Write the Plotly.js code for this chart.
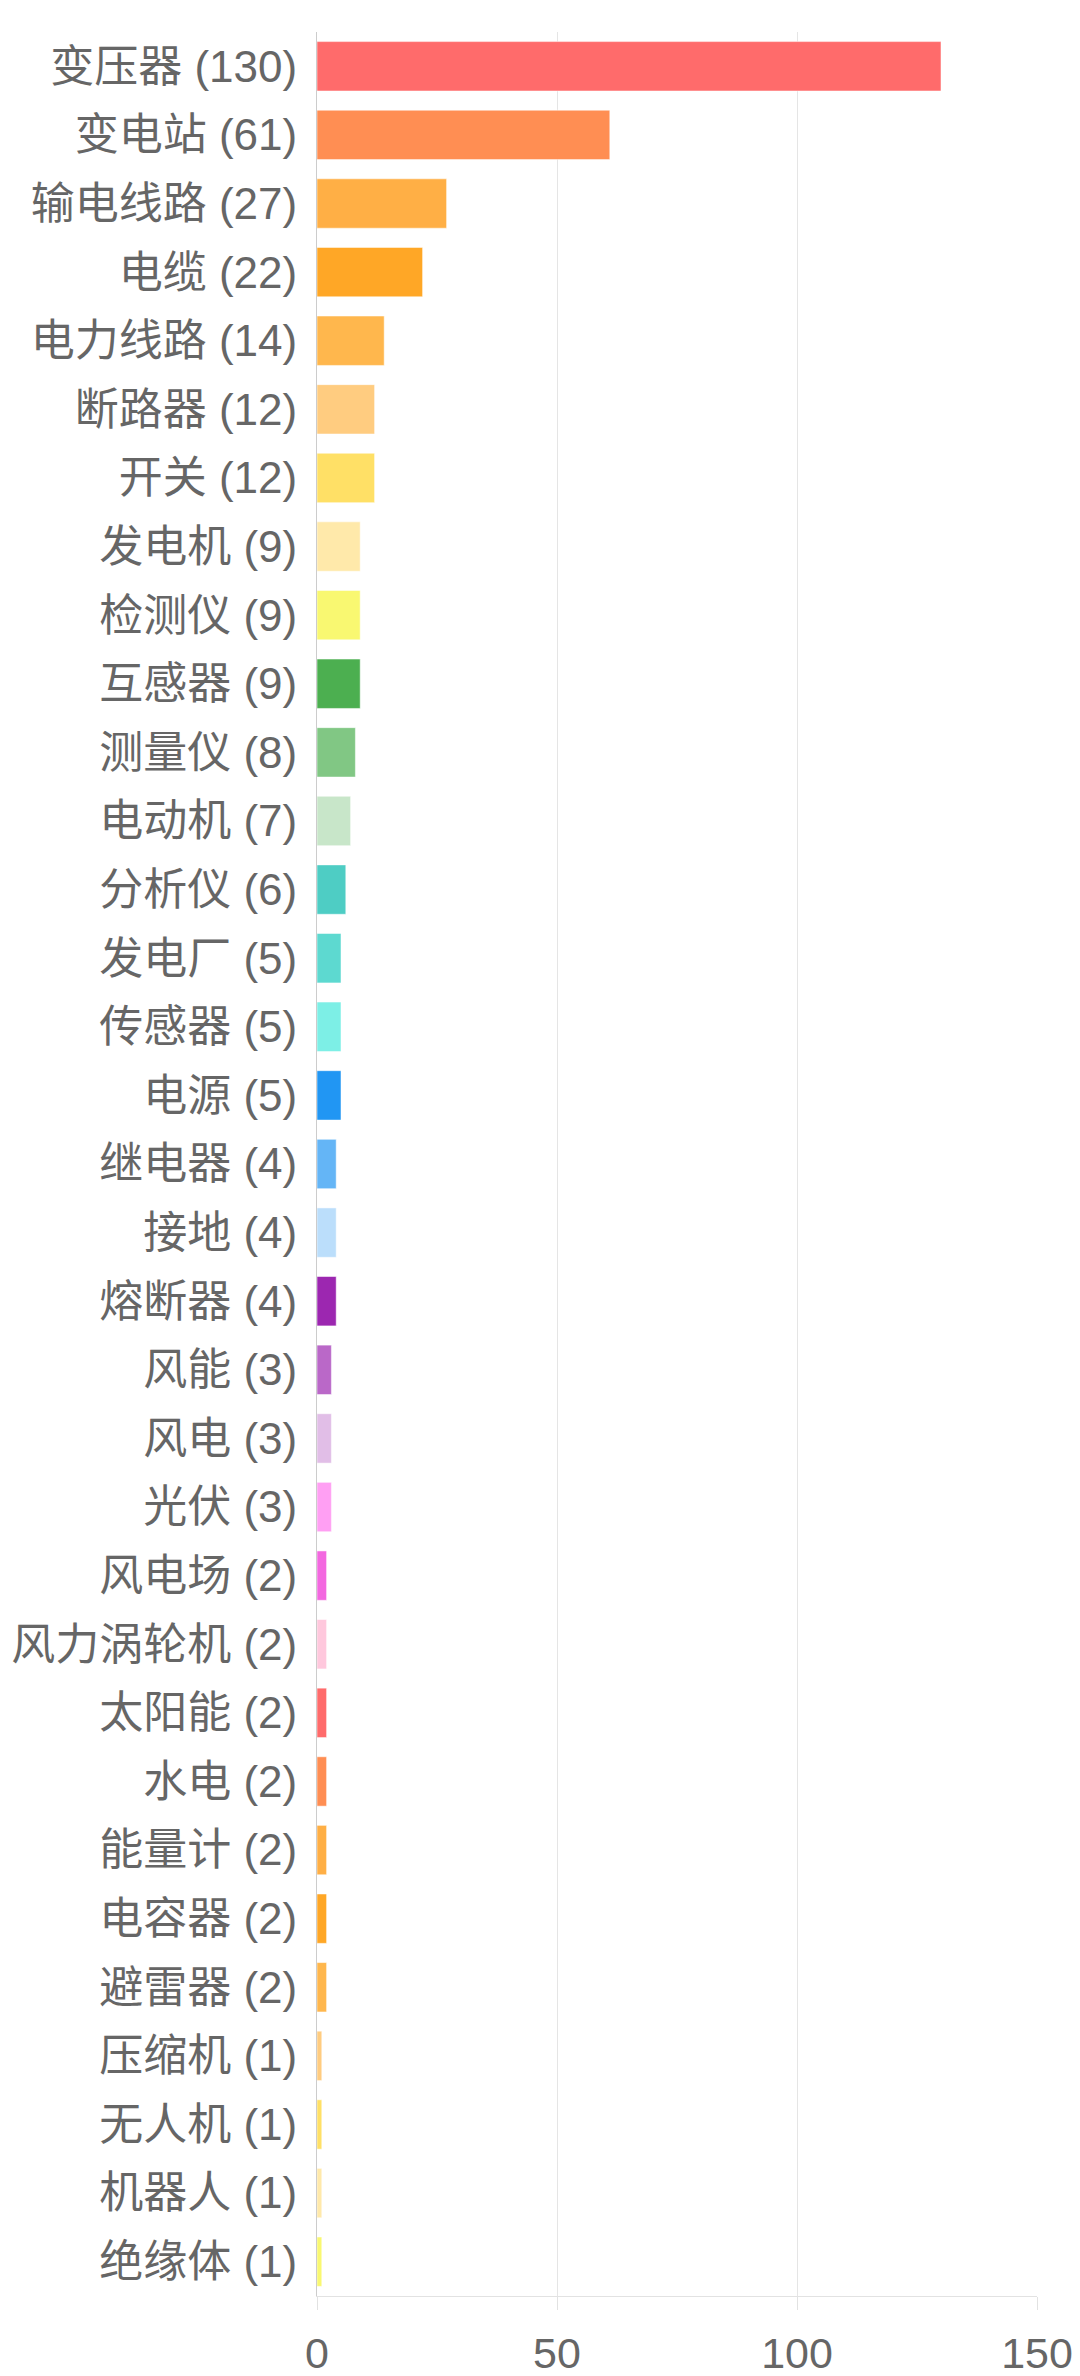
<!DOCTYPE html>
<html>
<head>
<meta charset="utf-8">
<script src="https://cdn.plot.ly/plotly-3.0.1.min.js"></script>
<style>
  html, body { margin: 0; padding: 0; background: #fff; }
  #plot { width: 1080px; height: 2376px; }
</style>
</head>
<body>
<div id="plot"></div>
<script>
const names = [
  "变压器", "变电站", "输电线路", "电缆", "电力线路", "断路器", "开关", "发电机",
  "检测仪", "互感器", "测量仪", "电动机", "分析仪", "发电厂", "传感器", "电源",
  "继电器", "接地", "熔断器", "风能", "风电", "光伏", "风电场", "风力涡轮机",
  "太阳能", "水电", "能量计", "电容器", "避雷器", "压缩机", "无人机", "机器人", "绝缘体"
];
const counts = [
  130, 61, 27, 22, 14, 12, 12, 9,
  9, 9, 8, 7, 6, 5, 5, 5,
  4, 4, 4, 3, 3, 3, 2, 2,
  2, 2, 2, 2, 2, 1, 1, 1, 1
];
// palette repeats after 24 bars
const palette = [
  "#FF6B6B", "#FF8E53", "#FFAF45", "#FFA726", "#FFB74D", "#FFCC80", "#FFE066", "#FFE9AA",
  "#F9F871", "#4CAF50", "#81C784", "#C8E6C9", "#4ECDC4", "#5DD9D0", "#7DEFE6", "#2196F3",
  "#64B5F6", "#BBDEFB", "#9C27B0", "#BA68C8", "#E1BEE7", "#FF9FF3", "#F368E0", "#FFC8DD"
];

const labels = names.map((n, i) => n + " (" + counts[i] + ")");
const colors = names.map((n, i) => palette[i % palette.length]);

const bars = {
  type: "bar",
  orientation: "h",
  x: counts,
  y: labels,
  marker: { color: colors, line: { color: "rgba(255,255,255,0.5)", width: 1 } },
  hoverinfo: "x+y"
};

Plotly.newPlot("plot", [bars], {
  width: 1080,
  height: 2376,
  margin: { l: 317, r: 43, t: 32, b: 80 },
  paper_bgcolor: "#ffffff",
  plot_bgcolor: "#ffffff",
  bargap: 0.28,
  showlegend: false,
  font: { family: "Liberation Sans, Noto Sans CJK SC, sans-serif", size: 44, color: "#666666" },
  xaxis: {
    range: [0, 150],
    tickvals: [0, 50, 100, 150],
    ticks: "outside",
    ticklen: 13,
    tickcolor: "#e2e2e2",
    gridcolor: "#e5e5e5",
    showline: true,
    linecolor: "#e2e2e2",
    zeroline: false,
    ticklabelstandoff: 6,
    tickfont: { size: 43 }
  },
  yaxis: {
    autorange: "reversed",
    showline: true,
    linecolor: "#cccccc",
    ticks: "",
    ticklabelstandoff: 10,
    showgrid: false,
    tickfont: { size: 44 }
  }
}, { displayModeBar: false });
</script>
</body>
</html>
